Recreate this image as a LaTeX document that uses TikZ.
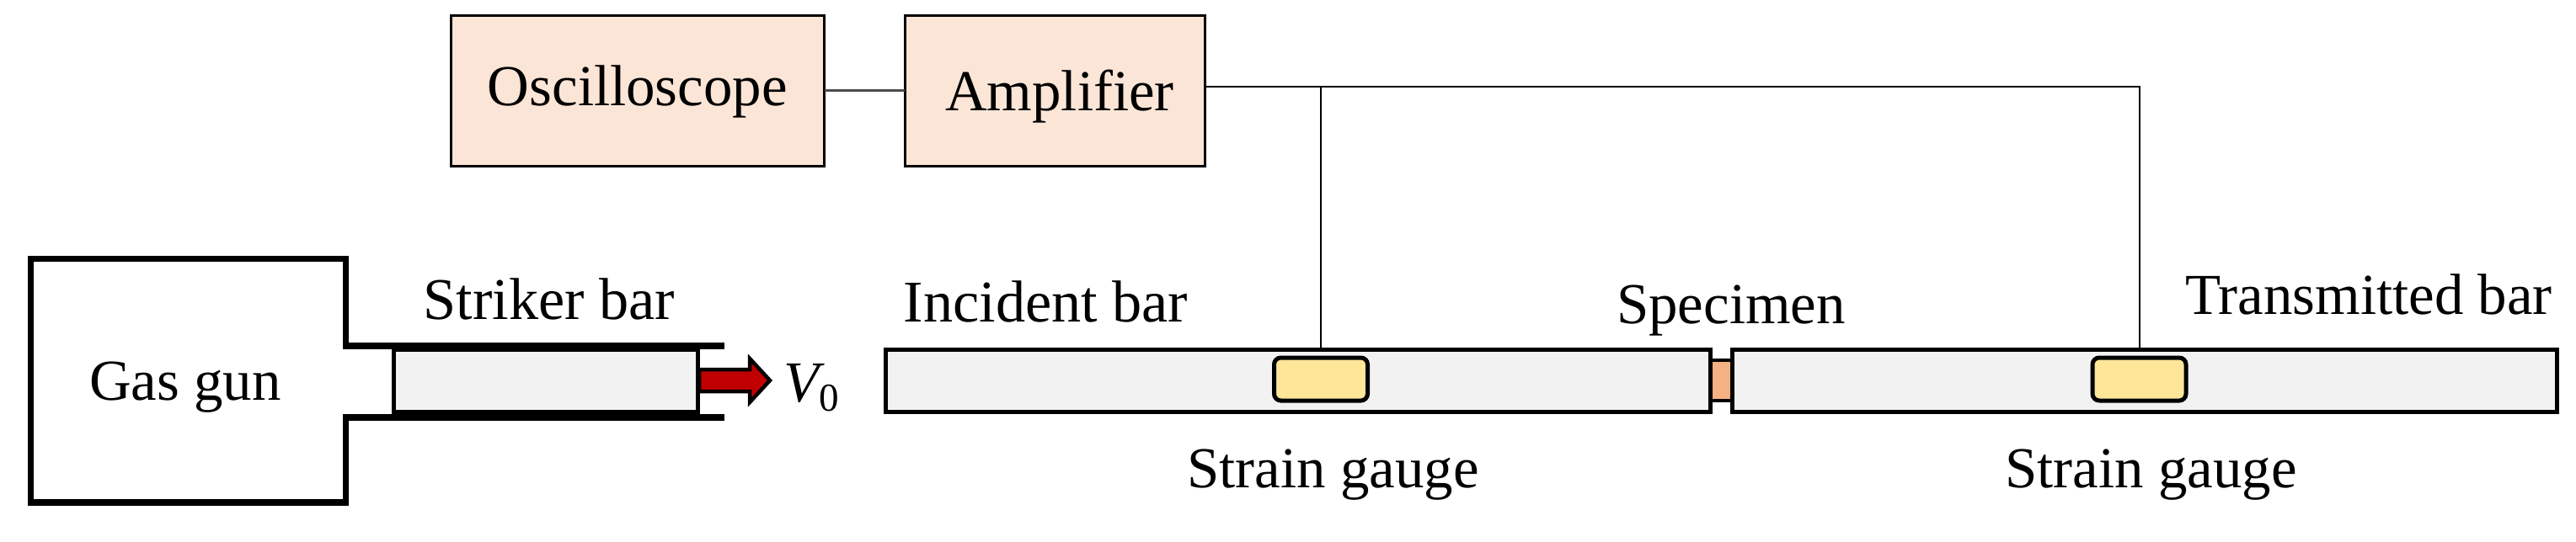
\documentclass[tikz,border=0pt]{standalone}
\usepackage{fontspec}
\setmainfont{Liberation Serif}
\usepackage{tikz}
\definecolor{unitfill}{HTML}{FBE5D6}
\definecolor{barfill}{HTML}{F2F2F2}
\definecolor{gaugefill}{HTML}{FFE699}
\definecolor{specfill}{HTML}{F4B183}
\definecolor{shotred}{HTML}{C00000}

\begin{document}
\begin{tikzpicture}[line join=miter,
  lbl/.style={anchor=base,inner sep=0pt,font=\fontsize{19.6}{24}\selectfont},
  lblbig/.style={lbl,font=\fontsize{20}{24}\selectfont},
  unit/.style={draw,line width=.03cm,fill=unitfill,inner sep=0pt,outer sep=0pt,
    minimum height=1.79cm,font=\fontsize{19.6}{24}\selectfont},
  bar/.style={draw,line width=.05cm,fill=barfill,inner sep=0pt,outer sep=0pt,minimum height=.74cm},
  gauge/.style={draw,line width=.05cm,fill=gaugefill,rounded corners=.08cm,inner sep=0pt,
    outer sep=0pt,minimum width=1.11cm,minimum height=.51cm},
  wire/.style={line width=.02cm}]
\path[use as bounding box] (0,0) rectangle (30.58,6.43);
\fill[white] (0,0) rectangle (30.58,6.43);

% gas gun and striker
\node[bar,minimum width=3.615cm] (striker) at (6.48,1.91) {};
\draw[line width=.075cm] (8.60,2.32)--(4.105,2.32)--(4.105,3.355)--(.365,3.355)
  --(.365,.46)--(4.105,.46)--(4.105,1.47)--(8.60,1.47);
\draw[line width=.045cm,fill=shotred] (8.30,2.04)--(8.90,2.04)--(8.90,2.17)--(9.14,1.91)
  --(8.90,1.65)--(8.90,1.78)--(8.30,1.78)--cycle;
\node[lbl] (gun) at (2.20,1.68) {Gas gun};
\node[lblbig] (strikerlbl) at (6.52,2.64) {Striker bar};
\node[lbl,anchor=base west] (vel) at (9.30,1.66)
  {\itshape V\upshape\raisebox{-.11cm}{\fontsize{13.4}{16}\selectfont 0}};

% measuring units
\node[unit,minimum width=4.436cm,text height=.55cm,text depth=.19cm] (scope) at (7.568,5.355) {Oscilloscope};
\node[unit,minimum width=3.56cm,text height=.55cm,text depth=.07cm] (amp) at (12.52,5.355) {\hspace{.12cm}Amplifier};
\draw[line width=.03cm,black!70] (scope.east)--(amp.west);

% pressure bars
\node[draw,line width=.04cm,fill=specfill,inner sep=0pt,minimum width=.3cm,minimum height=.48cm] (spec) at (20.435,1.91) {};
\node[bar,minimum width=9.785cm] (ibar) at (15.4075,1.91) {};
\node[bar,minimum width=9.79cm] (tbar) at (25.464,1.91) {};
\node[gauge] (igauge) at (15.68,1.925) {};
\node[gauge] (tgauge) at (25.395,1.925) {};

% wires
\coordinate (ampout) at (14.30,5.40);
\draw[wire] (ampout)-|(tgauge.north|-tbar.north);
\draw[wire] (igauge.north|-ampout)--(igauge.north|-ibar.north);

\node[lblbig] (ilbl) at (12.415,2.61) {Incident bar};
\node[lbl] (slbl) at (20.55,2.59) {Specimen};
\node[lbl] (tlbl) at (28.12,2.70) {Transmitted bar};
\node[lbl] (ig) at (15.825,.64) {Strain gauge};
\node[lbl] (tg) at (25.535,.64) {Strain gauge};
\end{tikzpicture}
\end{document}
